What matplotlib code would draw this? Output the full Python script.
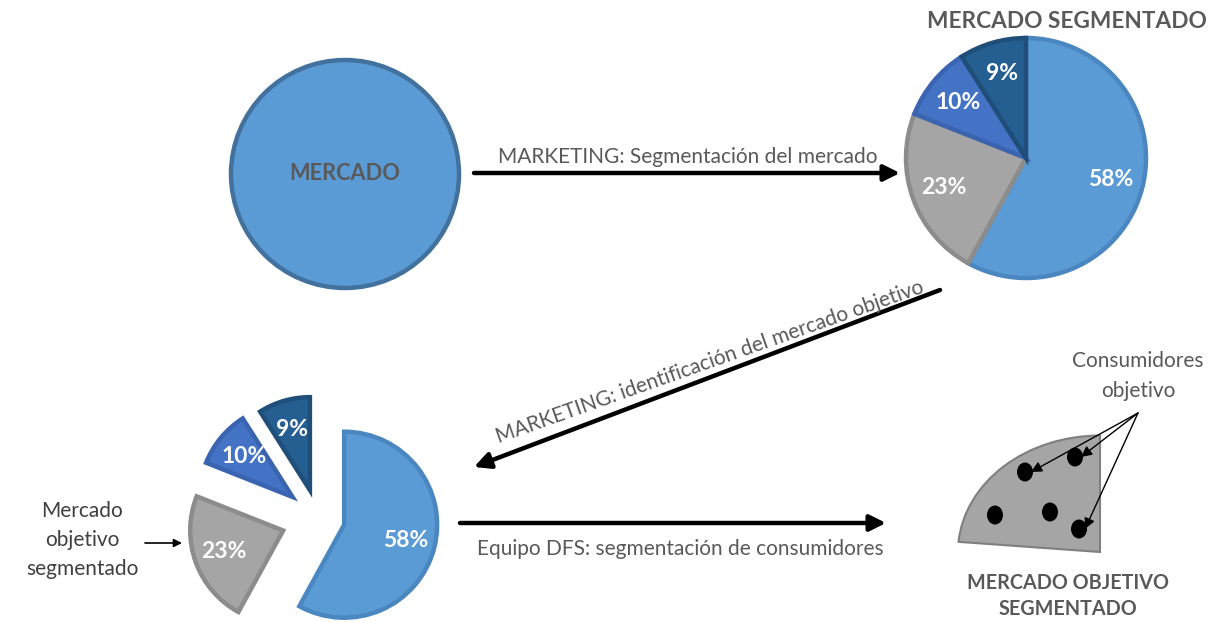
import matplotlib.pyplot as plt
from matplotlib.patches import Circle, Wedge, Ellipse
from matplotlib.transforms import Affine2D

W, H = 1213, 622

# pie data
segments = ["Segmento A", "Segmento B", "Segmento C", "Segmento D"]
shares = [58, 23, 10, 9]
fill_colors = ["#5B9BD5", "#A5A5A5", "#4472C4", "#255E91"]
edge_colors = ["#4A86C0", "#8C8C8C", "#3A63B0", "#1F4E79"]
explode_bottom = [27, 37, 33, 29]   # pie explode is in data units

# consumer dots inside the target segment (pixel coords)
dots_x = [1025, 1075, 995, 1050, 1079]
dots_y = [472, 457, 515, 512, 529]
targets = [0, 1, 4]

GREY = "#595959"
plt.rcParams['font.family'] = ['Lato', 'DejaVu Sans']


def Y(y):
    return H - y


fig = plt.figure(figsize=(W / 100, H / 100), dpi=100)
ax = fig.add_axes([0, 0, 1, 1])

# MERCADO circle
ax.add_patch(Circle((345, Y(174)), 114, fc="#5B9BD5", ec="#41719C", lw=3.2))
ax.text(345, Y(174), "MERCADO", ha="center", va="center", fontsize=15.7,
        fontweight="bold", color=GREY)

# top right pie
wedges, _, autotexts = ax.pie(shares, center=(1026, Y(158)), radius=120,
                              startangle=90, counterclock=False,
                              colors=fill_colors, autopct="%.0f%%",
                              pctdistance=0.73, frame=True,
                              wedgeprops=dict(lw=3.2))
for w, ec in zip(wedges, edge_colors):
    w.set_edgecolor(ec)
for t in autotexts:
    t.set_color("white")
    t.set_fontsize(16.5)
    t.set_fontweight("bold")
ax.text(1067, Y(21), "MERCADO SEGMENTADO", ha="center", va="center",
        fontsize=16.3, fontweight="bold", color=GREY)

# bottom exploded pie
wedges2, _, autotexts2 = ax.pie(shares, center=(318, Y(518)), radius=93,
                                startangle=90, counterclock=False,
                                colors=fill_colors, autopct="%.0f%%",
                                pctdistance=0.68, explode=explode_bottom,
                                frame=True, wedgeprops=dict(lw=3.2))
for w, ec in zip(wedges2, edge_colors):
    w.set_edgecolor(ec)
for t in autotexts2:
    t.set_color("white")
    t.set_fontsize(16.5)
    t.set_fontweight("bold")

# arrows
big = dict(arrowstyle="-|>", color="black", lw=3.2, mutation_scale=24,
           shrinkA=0, shrinkB=0)
ax.annotate("", xy=(900, Y(173)), xytext=(474, Y(173)), arrowprops=big)
ax.annotate("", xy=(474, Y(467)), xytext=(940, Y(290)), arrowprops=big)
ax.annotate("", xy=(886, Y(523)), xytext=(460, Y(523)), arrowprops=big)
ax.annotate("", xy=(182, Y(543)), xytext=(145, Y(543)),
            arrowprops=dict(arrowstyle="-|>", color="black", lw=1.2,
                            mutation_scale=12, shrinkA=0, shrinkB=0))

ax.text(688, Y(157), "MARKETING: Segmentación del mercado", ha="center",
        va="center", fontsize=15, color=GREY)
ax.text(710, Y(362), "MARKETING: identificación del mercado objetivo",
        ha="center", va="center", rotation=19.5, rotation_mode="anchor",
        fontsize=15, color=GREY)
ax.text(680, Y(549), "Equipo DFS: segmentación de consumidores",
        ha="center", va="center", fontsize=15, color=GREY)
ax.text(82, Y(540), "Mercado\nobjetivo\nsegmentado", ha="center",
        va="center", fontsize=15, color="#404040", linespacing=1.58)

# target segment with consumers (slightly flattened wedge)
squash = Affine2D().scale(1, 0.82).translate(1100, Y(552)) + ax.transData
ax.add_patch(Wedge((0, 0), 142, 90, 175, fc="#A5A5A5", ec="#7F7F7F",
                   lw=1.5, transform=squash))
for x, y in zip(dots_x, dots_y):
    ax.add_patch(Ellipse((x, Y(y)), 16, 19, fc="black", ec="none"))
for i in targets:
    ax.annotate("", xy=(dots_x[i] + 6, Y(dots_y[i])), xytext=(1138, Y(413)),
                arrowprops=dict(arrowstyle="-|>", color="black", lw=1.0,
                                mutation_scale=16, shrinkA=0, shrinkB=0))
ax.text(1138, Y(376), "Consumidores\nobjetivo", ha="center", va="center",
        fontsize=15, color=GREY, linespacing=1.58)
ax.text(1068, Y(596), "MERCADO OBJETIVO\nSEGMENTADO", ha="center",
        va="center", fontsize=14.2, fontweight="bold", color=GREY,
        linespacing=1.35)

ax.set_xlim(0, W)
ax.set_ylim(0, H)
ax.set_aspect("auto")
ax.axis("off")
fig.savefig("out.png", dpi=100)
